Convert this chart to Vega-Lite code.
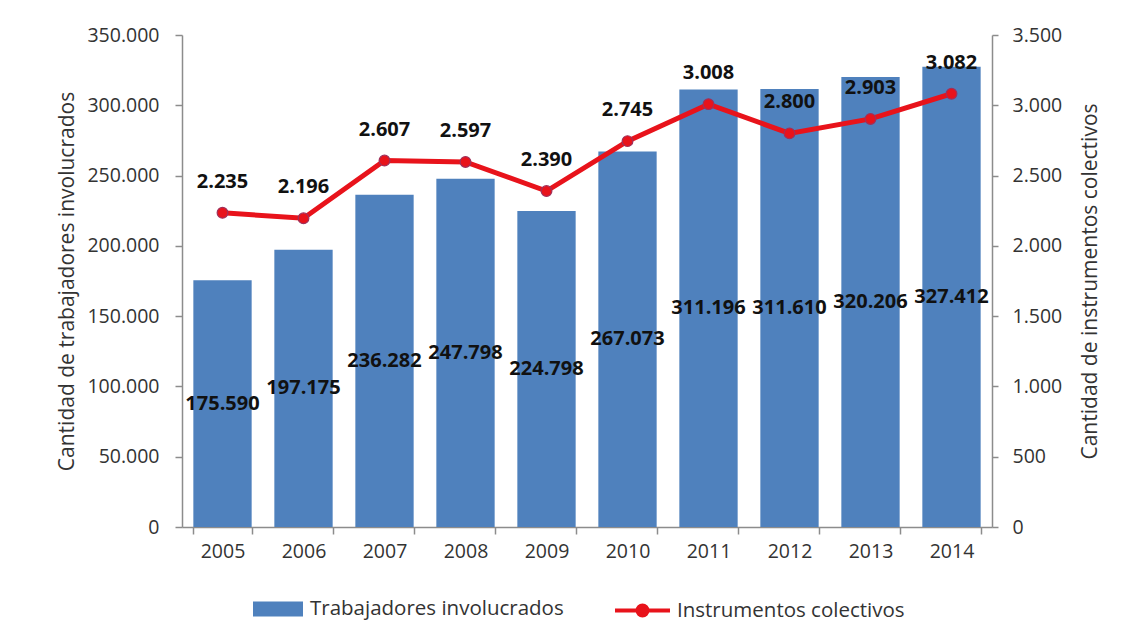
{
  "$schema": "https://vega.github.io/schema/vega-lite/v6.json",
  "autosize": {"type": "none"},
  "padding": {"left": 182, "top": 35, "right": 137, "bottom": 115},
  "width": 810,
  "height": 492,
  "background": "white",
  "config": {
    "locale": {"number": {"decimal": ",", "thousands": ".", "grouping": [3], "currency": ["", " €"]}},
    "font": "Open Sans",
    "view": {"stroke": null},
    "axis": {
      "labelFont": "Open Sans", "labelFontSize": 19.5, "labelColor": "#333333",
      "titleFont": "Open Sans", "titleFontSize": 21, "titleFontWeight": "normal", "titleColor": "#333333",
      "domainColor": "#8c8c8c", "tickColor": "#8c8c8c", "domainWidth": 1.5, "tickWidth": 1.5,
      "grid": false
    },
    "legend": {"labelFont": "Open Sans", "labelFontSize": 20.5, "labelColor": "#333333", "padding": 0, "labelLimit": 0}
  },
  "data": {
    "values": [
      {"year": "2005", "trab": 175590, "inst": 2235},
      {"year": "2006", "trab": 197175, "inst": 2196},
      {"year": "2007", "trab": 236282, "inst": 2607},
      {"year": "2008", "trab": 247798, "inst": 2597},
      {"year": "2009", "trab": 224798, "inst": 2390},
      {"year": "2010", "trab": 267073, "inst": 2745},
      {"year": "2011", "trab": 311196, "inst": 3008},
      {"year": "2012", "trab": 311610, "inst": 2800},
      {"year": "2013", "trab": 320206, "inst": 2903},
      {"year": "2014", "trab": 327412, "inst": 3082}
    ]
  },
  "encoding": {
    "x": {
      "field": "year", "type": "ordinal",
      "scale": {"paddingInner": 0.28, "paddingOuter": 0.14},
      "axis": {"title": null, "labelAngle": 0, "tickBand": "extent", "tickSize": 7, "labelPadding": 8}
    }
  },
  "layer": [
    {
      "mark": {"type": "bar"},
      "encoding": {
        "y": {
          "field": "trab", "type": "quantitative",
          "scale": {"domain": [0, 350000]},
          "axis": {
            "orient": "left", "title": "Cantidad de trabajadores involucrados",
            "values": [0, 50000, 100000, 150000, 200000, 250000, 300000, 350000],
            "format": ",d", "tickSize": 7, "labelPadding": 16, "titlePadding": 9
          }
        },
        "fill": {
          "datum": "Trabajadores involucrados",
          "scale": {"range": ["#4f81bd"]},
          "legend": {
            "title": null, "orient": "none", "legendX": 71, "legendY": 549,
            "symbolType": "M-1,-0.3H1V0.3H-1Z", "symbolSize": 2500,
            "symbolStrokeWidth": 0, "labelOffset": 7, "labelLimit": 0
          }
        }
      }
    },
    {
      "mark": {"type": "text", "fontWeight": "bold", "fontSize": 20, "color": "#111111", "baseline": "middle"},
      "encoding": {
        "y": {"field": "trab", "type": "quantitative", "scale": {"domain": [0, 700000]}, "axis": null},
        "text": {"field": "trab", "type": "quantitative", "format": ",d"}
      }
    },
    {
      "mark": {"type": "line", "strokeWidth": 5},
      "encoding": {
        "y": {
          "field": "inst", "type": "quantitative",
          "scale": {"domain": [0, 3500]},
          "axis": {
            "orient": "right", "title": "Cantidad de instrumentos colectivos",
            "titleAngle": 270, "titleBaseline": "top",
            "values": [0, 500, 1000, 1500, 2000, 2500, 3000, 3500],
            "format": ",d", "tickSize": 6, "labelPadding": 14, "titlePadding": 18
          }
        },
        "stroke": {
          "datum": "Instrumentos colectivos",
          "scale": {"range": ["#e8131b"]},
          "legend": {
            "title": null, "orient": "none", "legendX": 431, "legendY": 546,
            "symbolType": "M-1,0H1M0.18,0A0.18,0.18 0 1 1 -0.18,0A0.18,0.18 0 1 1 0.18,0Z",
            "symbolSize": 3025, "symbolStrokeWidth": 4, "symbolFillColor": "#e8131b",
            "labelOffset": 5, "labelLimit": 0
          }
        }
      }
    },
    {
      "mark": {"type": "point", "filled": true, "size": 115, "fill": "#e8131b", "stroke": "#a0305a", "strokeWidth": 1.2, "opacity": 1},
      "encoding": {
        "y": {"field": "inst", "type": "quantitative", "scale": {"domain": [0, 3500]}, "axis": null}
      }
    },
    {
      "mark": {"type": "text", "fontWeight": "bold", "fontSize": 20, "color": "#111111", "baseline": "middle", "dy": -31},
      "encoding": {
        "y": {"field": "inst", "type": "quantitative", "scale": {"domain": [0, 3500]}, "axis": null},
        "text": {"field": "inst", "type": "quantitative", "format": ",d"}
      }
    }
  ],
  "resolve": {"scale": {"y": "independent", "fill": "independent", "stroke": "independent"}}
}
